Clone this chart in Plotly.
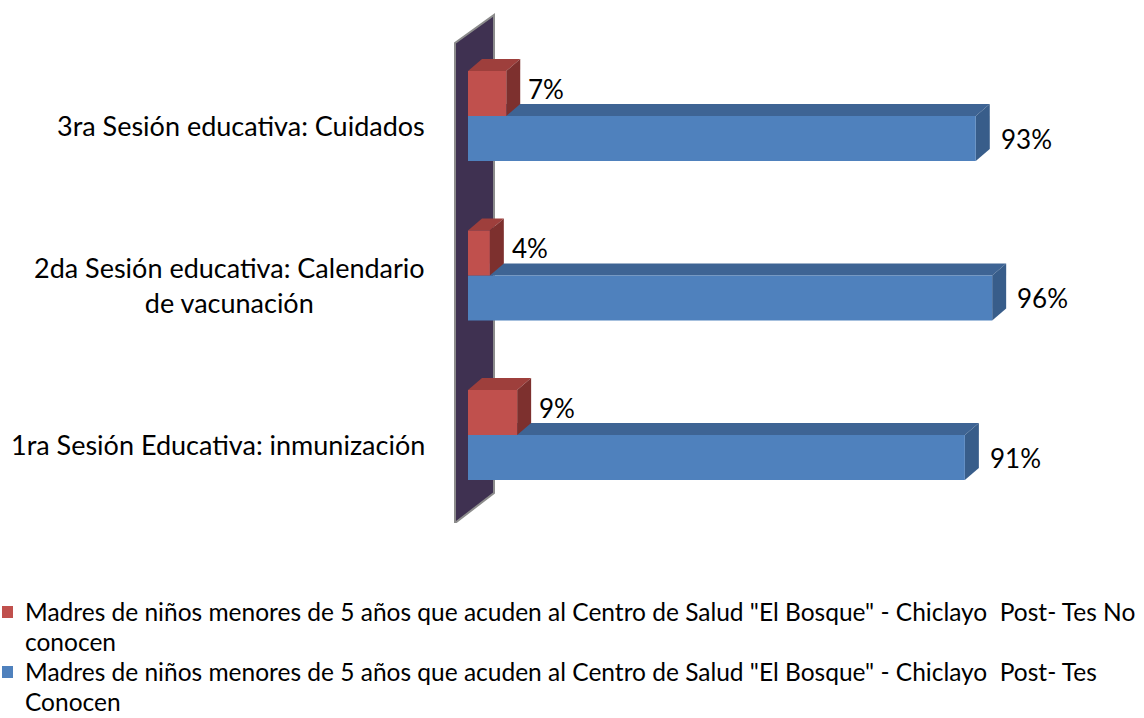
import plotly.graph_objects as go

# ---- data ----
categories = [
    "1ra Sesión Educativa: inmunización",
    "2da Sesión educativa: Calendario<br>de vacunación",
    "3ra Sesión educativa: Cuidados",
]
no_conocen = [9, 4, 7]
conocen = [91, 96, 93]
series_lines = [
    ['Madres de niños menores de 5 años que acuden al Centro de Salud "El Bosque" - Chiclayo  Post- Tes No',
     'conocen'],
    ['Madres de niños menores de 5 años que acuden al Centro de Salud "El Bosque" - Chiclayo  Post- Tes',
     'Conocen'],
]

# ---- styling / geometry ----
FONT = "Lato"
W, H = 1144, 718
L_PX, R_PX, T_PX, B_PX = 440, 1100, 13, 523
ZERO_X_PX, PX_PER_UNIT = 468, 5.46
ZERO_Y_PX, PY_PER_UNIT = 435, 159.5
xr = [-(ZERO_X_PX - L_PX) / PX_PER_UNIT, (R_PX - ZERO_X_PX) / PX_PER_UNIT]
yr = [-(B_PX - ZERO_Y_PX) / PY_PER_UNIT, (ZERO_Y_PX - T_PX) / PY_PER_UNIT]
BW = 45 / PY_PER_UNIT          # bar thickness
DX = 14 / PX_PER_UNIT          # depth offset (x)
DY = 12 / PY_PER_UNIT          # depth offset (y)


def px2paper_x(px):
    return (px - L_PX) / (R_PX - L_PX)


def px2paper_y(py):
    return (B_PX - py) / (B_PX - T_PX)


BLUE, BLUE_TOP, BLUE_SIDE = "#4F81BD", "#3E6494", "#385D8A"
RED, RED_TOP, RED_SIDE = "#C0504D", "#9E3F3C", "#7D302E"
WALL = "#3F3151"
colors = [RED, BLUE]

ypos = list(range(len(categories)))

fig = go.Figure()
fig.add_trace(go.Bar(
    y=ypos, x=conocen, orientation="h", base=0, offset=-BW, width=BW,
    marker=dict(color=BLUE, line=dict(width=0)), name=" ".join(series_lines[1]),
    showlegend=False, hoverinfo="x",
))
fig.add_trace(go.Bar(
    y=ypos, x=no_conocen, orientation="h", base=0, offset=0, width=BW,
    marker=dict(color=RED, line=dict(width=0)), name=" ".join(series_lines[0]),
    showlegend=False, hoverinfo="x",
))

shapes = []
# back wall (depth wall at the category axis)
wx0, wx1 = -13 / PX_PER_UNIT, 26 / PX_PER_UNIT
wyl_top, wyl_bot = (ZERO_Y_PX - 43) / PY_PER_UNIT, yr[0]
wyr_top, wyr_bot = (ZERO_Y_PX - 15) / PY_PER_UNIT, (ZERO_Y_PX - 493) / PY_PER_UNIT
shapes.append(dict(
    type="path", xref="x", yref="y", layer="below",
    path=f"M{wx0},{wyl_bot} L{wx0},{wyl_top} L{wx1},{wyr_top} L{wx1},{wyr_bot} Z",
    fillcolor=WALL, line=dict(color="#8C8C8C", width=2),
))


def faces(v, y0, y1, top_c, side_c):
    out = []
    out.append(dict(type="path", xref="x", yref="y", layer="below",
                    path=f"M0,{y1} L{v},{y1} L{v+DX},{y1+DY} L{DX},{y1+DY} Z",
                    fillcolor=top_c, line=dict(width=0)))
    out.append(dict(type="path", xref="x", yref="y", layer="below",
                    path=f"M{v},{y0} L{v},{y1} L{v+DX},{y1+DY} L{v+DX},{y0+DY} Z",
                    fillcolor=side_c, line=dict(width=0)))
    return out


for yi, v in zip(ypos, conocen):
    shapes += faces(v, yi - BW, yi, BLUE_TOP, BLUE_SIDE)
for yi, v in zip(ypos, no_conocen):
    shapes += faces(v, yi, yi + BW, RED_TOP, RED_SIDE)

LABEL_SIZE = 26
CAT_SIZE = 27
annotations = []
for yi, v in zip(ypos, no_conocen):
    annotations.append(dict(x=v + DX + 6 / PX_PER_UNIT, y=yi + BW / 2 + 5 / PY_PER_UNIT,
                            xref="x", yref="y", text=f"{v}%", showarrow=False,
                            xanchor="left", yanchor="middle",
                            font=dict(family=FONT, size=LABEL_SIZE, color="#000")))
for yi, v in zip(ypos, conocen):
    annotations.append(dict(x=v + DX + 9 / PX_PER_UNIT, y=yi - BW / 2,
                            xref="x", yref="y", text=f"{v}%", showarrow=False,
                            xanchor="left", yanchor="middle",
                            font=dict(family=FONT, size=LABEL_SIZE, color="#000")))
for yi, c in zip(ypos, categories):
    annotations.append(dict(x=px2paper_x(427), y=yi - 0.06,
                            xref="paper", yref="y", text=c, showarrow=False,
                            xanchor="right", yanchor="middle", align="center",
                            font=dict(family=FONT, size=CAT_SIZE, color="#000")))

# legend (drawn manually so the wrapped lines match)
LEG_SIZE = 24.5
leg_first_line_px = [611, 671]
LINE_STEP = 30
for i, (lines, col) in enumerate(zip(series_lines, colors)):
    y0 = leg_first_line_px[i]
    shapes.append(dict(type="rect", xref="paper", yref="paper",
                       x0=px2paper_x(2), x1=px2paper_x(13),
                       y0=px2paper_y(y0 - 5), y1=px2paper_y(y0 + 7),
                       fillcolor=col, line=dict(width=0), layer="above"))
    for j, t in enumerate(lines):
        annotations.append(dict(x=px2paper_x(23), y=px2paper_y(y0 + j * LINE_STEP),
                                xref="paper", yref="paper", text=t, showarrow=False,
                                xanchor="left", yanchor="middle", align="left",
                                font=dict(family=FONT, size=LEG_SIZE, color="#000")))

fig.update_layout(
    width=W, height=H,
    margin=dict(l=L_PX, r=W - R_PX, t=T_PX, b=H - B_PX, pad=0, autoexpand=False),
    paper_bgcolor="white", plot_bgcolor="rgba(0,0,0,0)",
    barmode="overlay",
    xaxis=dict(range=xr, visible=False, fixedrange=True),
    yaxis=dict(range=yr, visible=False, fixedrange=True),
    shapes=shapes, annotations=annotations,
    showlegend=False,
)

fig.write_html("out.html", config={"displayModeBar": False},
               post_script="document.body.style.margin='0';")
